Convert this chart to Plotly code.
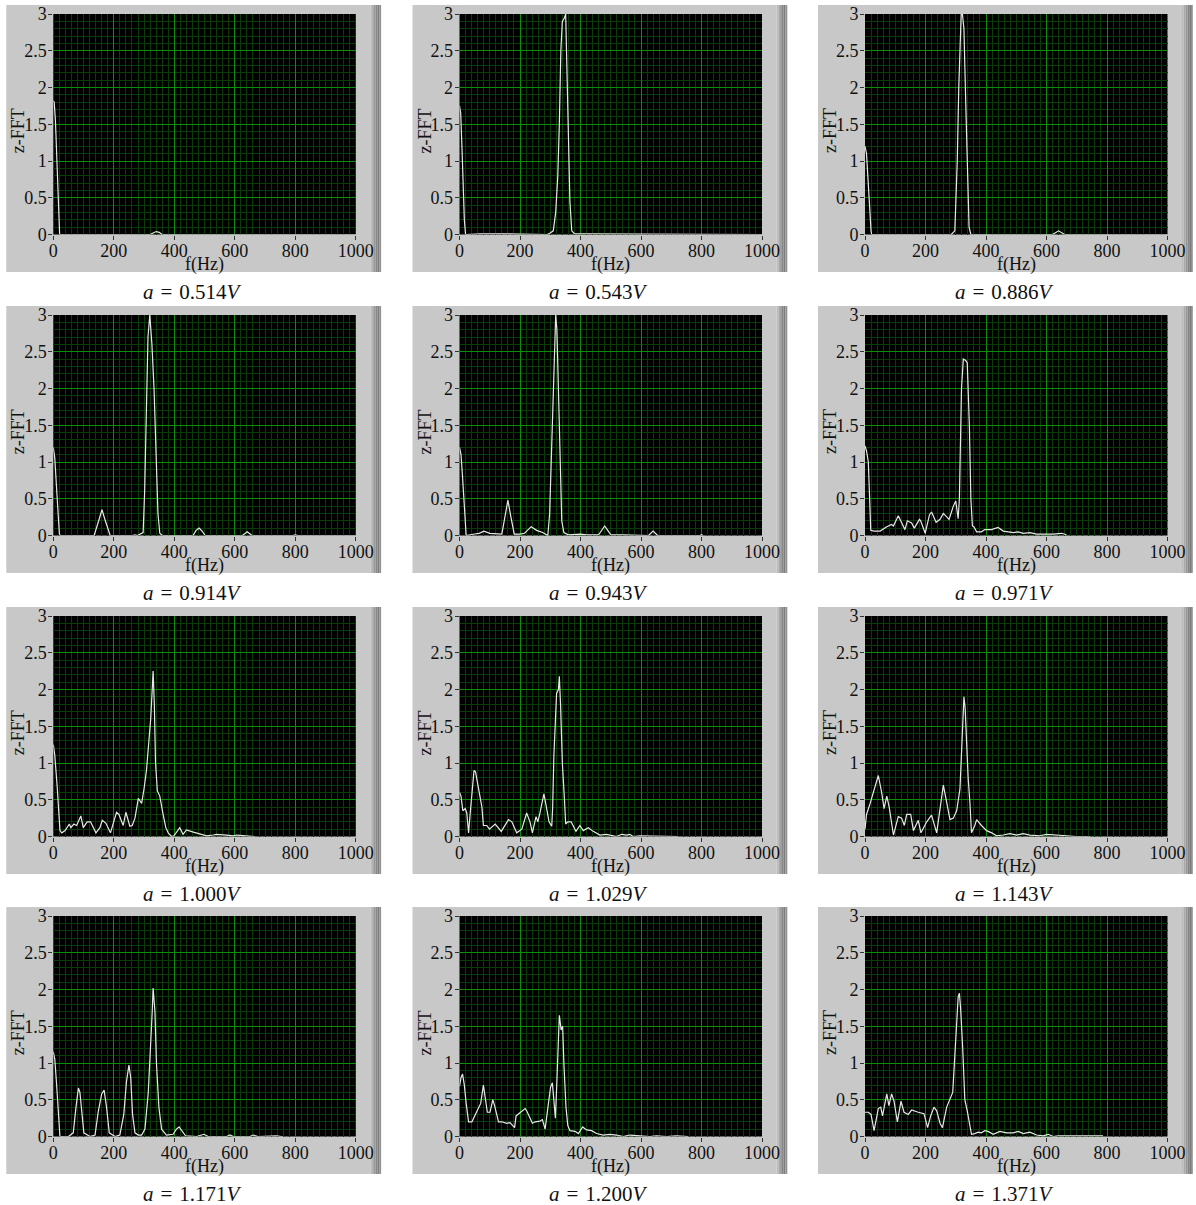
import plotly.graph_objects as go

# ---- spectra: frequency (Hz) and z-FFT amplitude for each drive amplitude ----
CAPTIONS = ["0.514", "0.543", "0.886", "0.914", "0.943", "0.971",
            "1.000", "1.029", "1.143", "1.171", "1.200", "1.371"]

F1 = [0, 3, 7, 12, 17, 21, 320, 332, 340, 350, 360, 1000]
Z1 = [1.82, 1.8, 1.55, 1.0, 0.5, 0.0, 0.0, 0.03, 0.04, 0.03, 0.0, 0.0]

F2 = [0, 4, 8, 12, 16, 20, 50, 60, 70, 120, 240, 290, 300, 310, 318, 325, 330, 335,
      340, 347, 351, 356, 360, 365, 371, 380, 420, 690, 1000]
Z2 = [1.75, 1.65, 1.2, 0.6, 0.2, 0.0, 0.01, 0.01, 0.01, 0.01, 0.01, 0.0, 0.02, 0.05,
      0.3, 0.8, 1.5, 2.5, 2.9, 2.95, 3.0, 2.0, 1.0, 0.45, 0.05, 0.01, 0.01, 0.01, 0.0]

F3 = [0, 5, 10, 15, 20, 22, 140, 150, 160, 170, 180, 285, 297, 305, 310, 314, 318,
      322, 327, 333, 338, 344, 350, 620, 640, 660, 1000]
Z3 = [1.2, 1.1, 0.75, 0.35, 0.05, 0.0, 0.0, 0.01, 0.0, 0.01, 0.0, 0.0, 0.05, 1.0, 2.0,
      2.5, 3.0, 3.0, 2.8, 1.8, 1.0, 0.1, 0.0, 0.0, 0.05, 0.0, 0.0]

F4 = [0, 5, 10, 15, 20, 22, 135, 150, 161, 172, 188, 262, 270, 278, 288, 297, 302, 308,
      313, 319, 326, 333, 340, 346, 352, 360, 462, 472, 482, 492, 502, 625, 641, 657,
      792, 800, 808, 1000]
Z4 = [1.2, 1.05, 0.7, 0.3, 0.03, 0.0, 0.0, 0.2, 0.35, 0.2, 0.0, 0.0, 0.01, 0.0, 0.02,
      0.04, 0.6, 2.0, 2.7, 3.0, 2.6, 2.0, 1.0, 0.3, 0.03, 0.0, 0.0, 0.07, 0.1, 0.06, 0.0,
      0.0, 0.05, 0.0, 0.0, 0.01, 0.0, 0.0]

F5 = [0, 5, 10, 14, 18, 22, 50, 65, 81, 100, 140, 150, 160, 170, 181, 200, 215, 237,
      255, 275, 292, 298, 304, 310, 314, 318, 322, 326, 332, 338, 345, 360, 400, 420,
      460, 470, 480, 490, 500, 540, 570, 625, 640, 655, 795, 800, 805]
Z5 = [1.2, 1.1, 0.8, 0.52, 0.2, 0.0, 0.02, 0.03, 0.06, 0.03, 0.02, 0.25, 0.48, 0.25,
      0.02, 0.02, 0.03, 0.12, 0.07, 0.04, 0.0, 0.3, 1.2, 2.0, 2.6, 3.0, 2.8, 2.2, 1.0,
      0.2, 0.04, 0.01, 0.02, 0.01, 0.01, 0.07, 0.13, 0.07, 0.01, 0.01, 0.01, 0.0, 0.06,
      0.0, 0.0, 0.01, 0.0]

F6 = [0, 5, 11, 19, 30, 50, 72, 88, 94, 110, 124, 132, 140, 154, 163, 180, 184, 199,
      213, 220, 235, 248, 259, 278, 292, 300, 308, 312, 319, 325, 333, 338, 345, 350,
      355, 360, 369, 385, 396, 418, 440, 457, 474, 490, 507, 523, 545, 567, 622, 650, 666]
Z6 = [1.22, 1.15, 1.0, 0.07, 0.06, 0.06, 0.12, 0.15, 0.13, 0.27, 0.15, 0.08, 0.2, 0.17,
      0.1, 0.22, 0.2, 0.03, 0.28, 0.32, 0.18, 0.22, 0.3, 0.22, 0.4, 0.47, 0.23, 0.5, 2.0,
      2.4, 2.38, 2.35, 1.5, 0.5, 0.13, 0.12, 0.05, 0.05, 0.08, 0.08, 0.11, 0.06, 0.05,
      0.04, 0.05, 0.03, 0.04, 0.02, 0.02, 0.03, 0.01]

F7 = [0, 5, 13, 22, 28, 39, 53, 58, 68, 77, 91, 99, 112, 123, 141, 154, 162, 174, 189,
      209, 217, 231, 240, 253, 261, 270, 281, 292, 300, 308, 316, 322, 327, 330, 334, 338,
      344, 352, 363, 372, 380, 391, 399, 418, 429, 440, 463, 485, 507, 529, 540, 573, 595,
      606, 661, 666]
Z7 = [1.25, 1.1, 0.67, 0.08, 0.05, 0.08, 0.17, 0.12, 0.17, 0.15, 0.28, 0.12, 0.2, 0.2,
      0.05, 0.12, 0.22, 0.18, 0.05, 0.33, 0.3, 0.15, 0.33, 0.14, 0.15, 0.25, 0.52, 0.45,
      0.65, 0.9, 1.3, 1.6, 2.0, 2.25, 1.8, 1.0, 0.62, 0.55, 0.3, 0.12, 0.05, 0.0, 0.01,
      0.12, 0.03, 0.09, 0.06, 0.03, 0.01, 0.02, 0.03, 0.02, 0.01, 0.02, 0.01, 0.0]

F8 = [0, 5, 11, 19, 24, 30, 35, 48, 53, 60, 74, 79, 90, 99, 118, 138, 162, 173, 189,
      206, 222, 233, 241, 253, 259, 266, 279, 285, 296, 305, 308, 312, 318, 321, 327, 330,
      334, 340, 347, 351, 358, 369, 385, 398, 409, 426, 442, 464, 486, 508, 519, 536, 552,
      563, 574, 596, 640, 684, 723]
Z8 = [0.6, 0.55, 0.35, 0.38, 0.32, 0.05, 0.3, 0.9, 0.88, 0.7, 0.4, 0.15, 0.15, 0.1, 0.17,
      0.07, 0.23, 0.2, 0.05, 0.1, 0.32, 0.2, 0.05, 0.27, 0.2, 0.32, 0.58, 0.45, 0.2, 0.14,
      0.4, 1.1, 1.7, 1.95, 2.0, 2.18, 1.8, 1.0, 0.5, 0.17, 0.2, 0.2, 0.07, 0.15, 0.08,
      0.12, 0.07, 0.02, 0.03, 0.01, 0.0, 0.03, 0.02, 0.03, 0.0, 0.01, 0.01, 0.0, 0.0]

F9 = [0, 5, 17, 28, 44, 55, 63, 72, 80, 94, 110, 121, 130, 138, 151, 160, 176, 185, 204,
      220, 237, 259, 270, 281, 292, 303, 314, 319, 325, 327, 331, 336, 341, 347, 352, 363,
      369, 385, 402, 419, 435, 457, 479, 501, 523, 545, 578, 600, 622, 666, 699, 743]
Z9 = [0.1, 0.3, 0.45, 0.6, 0.83, 0.6, 0.38, 0.55, 0.4, 0.02, 0.27, 0.25, 0.15, 0.3, 0.3,
      0.08, 0.22, 0.05, 0.2, 0.29, 0.05, 0.7, 0.45, 0.23, 0.25, 0.35, 0.65, 1.2, 1.6, 1.9,
      1.75, 1.2, 0.8, 0.45, 0.05, 0.15, 0.23, 0.15, 0.08, 0.05, 0.01, 0.02, 0.04, 0.02,
      0.04, 0.02, 0.01, 0.03, 0.02, 0.01, 0.0, 0.0]

F10 = [0, 5, 11, 22, 50, 66, 75, 83, 88, 94, 101, 121, 138, 149, 160, 168, 176, 185, 204,
       220, 233, 242, 250, 256, 262, 270, 281, 292, 303, 314, 322, 327, 330, 336, 341,
       349, 358, 374, 396, 407, 416, 426, 437, 474, 498, 512, 573, 584, 595, 650, 661,
       677, 738, 754, 760]
Z10 = [1.15, 1.05, 0.7, 0.0, 0.0, 0.05, 0.4, 0.66, 0.6, 0.3, 0.05, 0.0, 0.02, 0.35, 0.58,
       0.63, 0.4, 0.05, 0.0, 0.02, 0.3, 0.75, 0.97, 0.8, 0.3, 0.05, 0.02, 0.02, 0.1, 0.6,
       1.2, 1.7, 2.02, 1.7, 1.0, 0.4, 0.1, 0.02, 0.03, 0.1, 0.13, 0.08, 0.01, 0.0, 0.03,
       0.0, 0.0, 0.02, 0.0, 0.0, 0.02, 0.0, 0.01, 0.0, 0.0]

F11 = [0, 5, 10, 16, 22, 30, 41, 52, 70, 79, 87, 92, 101, 110, 116, 129, 140, 156, 167,
       182, 187, 200, 217, 222, 233, 241, 250, 266, 274, 283, 294, 301, 307, 314, 317,
       321, 327, 330, 336, 341, 345, 352, 358, 365, 382, 393, 407, 420, 437, 453, 475,
       497, 519, 541, 563, 596, 629, 651, 684, 717, 756]
Z11 = [0.68, 0.8, 0.85, 0.7, 0.45, 0.2, 0.2, 0.3, 0.45, 0.7, 0.5, 0.33, 0.33, 0.5, 0.42,
       0.2, 0.2, 0.18, 0.19, 0.12, 0.28, 0.32, 0.38, 0.35, 0.25, 0.18, 0.2, 0.21, 0.23,
       0.1, 0.45, 0.67, 0.73, 0.45, 0.25, 0.65, 1.3, 1.65, 1.45, 1.5, 1.0, 0.4, 0.15,
       0.08, 0.07, 0.04, 0.13, 0.09, 0.08, 0.04, 0.02, 0.03, 0.02, 0.0, 0.02, 0.01, 0.0,
       0.01, 0.0, 0.01, 0.0]

F12 = [0, 11, 20, 30, 44, 52, 58, 66, 72, 79, 88, 96, 107, 119, 129, 143, 154, 176, 195,
       207, 217, 228, 237, 248, 256, 270, 281, 290, 297, 303, 308, 312, 316, 323, 330,
       338, 347, 352, 363, 374, 385, 396, 407, 424, 446, 468, 490, 507, 523, 545, 567,
       589, 606, 622, 639, 666, 787]
Z12 = [0.33, 0.33, 0.3, 0.08, 0.38, 0.4, 0.28, 0.45, 0.58, 0.42, 0.58, 0.48, 0.2, 0.48,
       0.33, 0.3, 0.36, 0.33, 0.31, 0.12, 0.28, 0.4, 0.35, 0.18, 0.12, 0.4, 0.52, 0.6,
       1.1, 1.5, 1.9, 1.95, 1.75, 1.2, 0.5, 0.35, 0.1, 0.03, 0.04, 0.06, 0.05, 0.08, 0.07,
       0.03, 0.07, 0.05, 0.05, 0.07, 0.04, 0.06, 0.02, 0.01, 0.03, 0.0, 0.01, 0.01, 0.01]

FREQS = [F1, F2, F3, F4, F5, F6, F7, F8, F9, F10, F11, F12]
AMPS = [Z1, Z2, Z3, Z4, Z5, Z6, Z7, Z8, Z9, Z10, Z11, Z12]

X_TICKS = [0, 200, 400, 600, 800, 1000]
Y_TICKS = [0, 0.5, 1, 1.5, 2, 2.5, 3]
Y_TICK_TEXT = ["0", "0.5", "1", "1.5", "2", "2.5", "3"]

# ---- page geometry (pixels) ----
W, H = 1196, 1205
COL_LEFT = [53.3, 459.5, 865.0]
ROW_TOP = [14.0, 315.0, 616.0, 916.0]
PLOT_W, PLOT_H = 302.5, 220.5

SERIF = "Liberation Serif"
PANEL_GRAY = "#c8c8c8"
BEVEL = ["#bdbdbd", "#aaaaaa", "#979797", "#888888", "#7c7c7c", "#909090"]
MAJOR_GRID = "#0b8f0b"
MINOR_GRID = "#0a3c0a"


def px(x):
    return x / W


def py(y):
    return 1 - y / H


fig = go.Figure()
shapes = []
annotations = []

for k in range(12):
    r, c = divmod(k, 3)
    L, T = COL_LEFT[c], ROW_TOP[r]
    n = "" if k == 0 else str(k + 1)

    # instrument-style front panel with a shaded right edge
    shapes.append(dict(type="rect", xref="paper", yref="paper", layer="below",
                       x0=px(L - 47), x1=px(L + 317), y0=py(T + 258), y1=py(T - 9),
                       fillcolor=PANEL_GRAY, line=dict(width=0)))
    for i, col in enumerate(BEVEL):
        shapes.append(dict(type="rect", xref="paper", yref="paper", layer="below",
                           x0=px(L + 317 + 1.8 * i), x1=px(L + 317 + 1.8 * (i + 1)),
                           y0=py(T + 258), y1=py(T - 9),
                           fillcolor=col, line=dict(width=0)))
    # black display area
    shapes.append(dict(type="rect", xref="paper", yref="paper", layer="below",
                       x0=px(L), x1=px(L + PLOT_W), y0=py(T + PLOT_H), y1=py(T),
                       fillcolor="black", line=dict(width=0)))

    fig.add_trace(go.Scatter(
        x=FREQS[k], y=AMPS[k], mode="lines",
        line=dict(color="#e8e8e8", width=1.2),
        xaxis="x" + n, yaxis="y" + n, showlegend=False, hoverinfo="x+y"))

    common = dict(
        showgrid=True, gridcolor=MAJOR_GRID, gridwidth=1,
        zeroline=False, showline=False, automargin=False,
        ticks="outside", ticklen=4, tickcolor="#333333", tickwidth=1,
        tickfont=dict(family=SERIF, size=18, color="#111111"),
        fixedrange=True,
    )
    fig.update_layout(**{
        "xaxis" + n: dict(
            common, domain=[px(L), px(L + PLOT_W)], anchor="y" + n,
            range=[0, 1000], tickvals=X_TICKS, ticktext=[str(v) for v in X_TICKS],
            ticklabelstandoff=-4,
            minor=dict(dtick=20, tick0=0, showgrid=True, gridcolor=MINOR_GRID,
                       gridwidth=1, ticks=""),
        ),
        "yaxis" + n: dict(
            common, domain=[py(T + PLOT_H), py(T)], anchor="x" + n,
            range=[0, 3], tickvals=Y_TICKS, ticktext=Y_TICK_TEXT, ticklabelstandoff=-2,
            minor=dict(dtick=0.1, tick0=0, showgrid=True, gridcolor=MINOR_GRID,
                       gridwidth=1, ticks=""),
        ),
    })

    annotations.append(dict(
        text="z-FFT", xref="paper", yref="paper", x=px(L - 35), y=py(T + 117),
        textangle=-90, showarrow=False, xanchor="center", yanchor="middle",
        font=dict(family=SERIF, size=18, color="#111111")))
    annotations.append(dict(
        text="f(Hz)", xref="paper", yref="paper", x=px(L + PLOT_W / 2), y=py(T + PLOT_H + 30),
        showarrow=False, xanchor="center", yanchor="middle",
        font=dict(family=SERIF, size=18, color="#111111")))
    annotations.append(dict(
        text="<i>a</i>\u2004=\u2004" + CAPTIONS[k] + "<i>V</i>",
        xref="paper", yref="paper", x=px(L + 139), y=py(T + 278),
        showarrow=False, xanchor="center", yanchor="middle",
        font=dict(family=SERIF, size=21, color="#111111")))

fig.update_layout(
    width=W, height=H,
    margin=dict(l=0, r=0, t=0, b=0, pad=0, autoexpand=False),
    paper_bgcolor="white", plot_bgcolor="black",
    shapes=shapes, annotations=annotations,
    showlegend=False,
)

fig.write_html("out.html")
